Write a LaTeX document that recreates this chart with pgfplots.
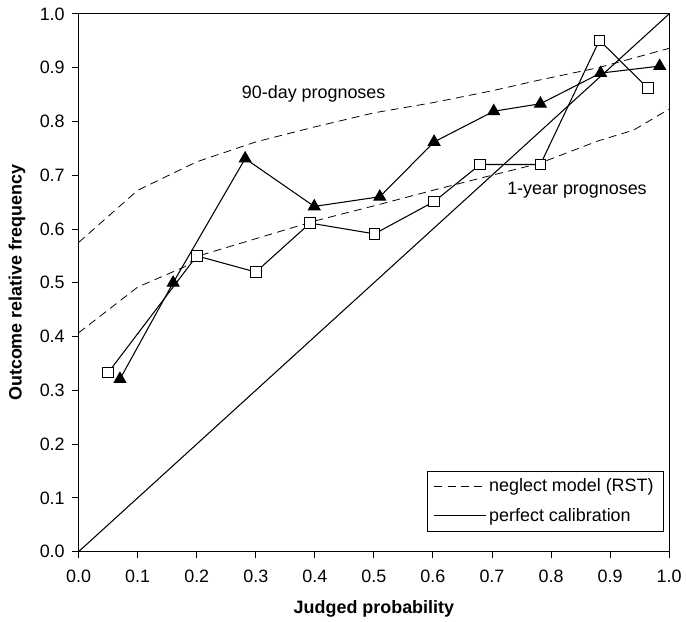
\documentclass[border=0pt]{standalone}
\usepackage{fontspec}
\setmainfont{Liberation Sans}
\usepackage{pgfplots}
\pgfplotsset{compat=1.18}

\pgfplotsset{
  calib/.style={black, line width=0.8pt},
  model/.style={black, line width=0.6pt, dash pattern=on 6pt off 4pt},
}

\begin{document}
\begin{tikzpicture}
\begin{axis}[
  name=ax,
  scale only axis,
  width=444.75pt, height=405pt,
  xmin=0, xmax=1, ymin=0, ymax=1,
  xtick={0,0.1,...,1.0}, ytick={0,0.1,...,1.0},
  tick pos=left, tick align=outside,
  major tick length=5pt,
  axis line style={line width=0.7pt},
  tick style={line width=0.7pt, black},
  /pgf/number format/.cd, fixed, fixed zerofill, precision=1, assume math mode=true, /pgfplots/.cd,
  tick label style={font=\fontsize{13.5}{15}\selectfont},
  xticklabel style={yshift=-5pt},
  yticklabel style={xshift=-2pt},
  xlabel={Judged probability},
  ylabel={Outcome relative frequency},
  every axis x label/.style={at={(axis description cs:0.5,-0.107)}, anchor=center,
    font=\fontsize{13.5}{15}\selectfont\bfseries},
  every axis y label/.style={at={(axis description cs:-0.1046,0.5)}, anchor=center, rotate=90,
    font=\fontsize{13.5}{15}\selectfont\bfseries},
  clip=false,
  legend cell align=left,
  legend style={at={(axis cs:0.99,0.037)}, anchor=south east, draw=black, line width=0.5pt,
    font=\fontsize{13.5}{15}\selectfont, inner xsep=5pt, inner ysep=4pt,
    row sep=7pt},
  legend image code/.code={\draw[#1] (0pt,0pt) -- (21pt,0pt); \path (0pt,0pt) -- (39pt,0pt);},
]

% neglect model, 90-day
\addplot[model] coordinates {
  (0,0.575) (0.1,0.672) (0.2,0.725) (0.3,0.762) (0.4,0.79) (0.5,0.816)
  (0.6,0.835) (0.7,0.857) (0.78,0.877) (0.88,0.90) (1.0,0.936)
};
\addlegendentry{neglect model (RST)}

% perfect calibration
\addplot[calib] coordinates {(0,0) (1,1)};
\addlegendentry{perfect calibration}

% neglect model, 1-year
\addplot[model, forget plot] coordinates {
  (0,0.407) (0.1,0.492) (0.18,0.53) (0.2,0.549) (0.3,0.582) (0.4,0.615)
  (0.5,0.643) (0.6,0.672) (0.7,0.70) (0.78,0.722) (0.88,0.764) (0.94,0.784) (1.0,0.823)
};

% 1-year observed
\addplot[black, line width=0.8pt, mark=square*, mark size=4pt,
  mark options={fill=white, solid, line width=0.7pt}, forget plot] coordinates {
  (0.05,0.333) (0.2,0.55) (0.30,0.52) (0.392,0.611) (0.501,0.591)
  (0.602,0.651) (0.68,0.72) (0.782,0.72) (0.882,0.951) (0.964,0.862)
};

% 90-day observed
\addplot[black, line width=0.8pt, mark=triangle*, mark size=5pt,
  mark options={fill=black, solid}, forget plot] coordinates {
  (0.07,0.321) (0.16,0.50) (0.282,0.731) (0.399,0.642) (0.51,0.66)
  (0.602,0.762) (0.703,0.819) (0.782,0.833) (0.884,0.89) (0.984,0.903)
};

\node[font=\fontsize{13.5}{15}\selectfont] at (axis cs:0.398,0.852) {90-day prognoses};
\node[font=\fontsize{13.5}{15}\selectfont] at (axis cs:0.844,0.673) {1-year prognoses};
\end{axis}
\path ([shift={(-59.25pt,-52.5pt)}]ax.south west) rectangle ([shift={(10.5pt,10.5pt)}]ax.north east);
\end{tikzpicture}
\end{document}
